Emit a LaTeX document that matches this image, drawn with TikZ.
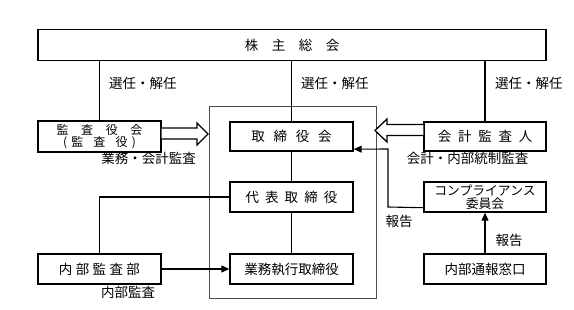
\documentclass[tikz,border=0pt]{standalone}
\usepackage{fontspec}
\setmainfont{Noto Sans CJK JP}
\usetikzlibrary{arrows.meta,calc}
\begin{document}
\begin{tikzpicture}[x=1pt,y=-1pt,
  box/.style={draw,line width=1.4pt,rectangle,minimum width=123pt,minimum height=30pt,inner sep=0pt,align=center,font=\fontsize{13.5}{15}\selectfont},
  lbl/.style={font=\fontsize{13.5}{15}\selectfont,inner sep=0pt},
  conn/.style={line width=1.1pt},
  arr/.style={conn,-{Triangle[length=8pt,width=7pt]}},
  hollow/.style={line width=1.3pt,fill=white,line join=miter}]
\useasboundingbox (0,0) rectangle (574,309);
% big frame
\draw[line width=0.6pt,black!70] (209,106) rectangle (376,298);
% boxes
\node[box,minimum width=508pt,minimum height=31pt] (soukai) at (292,45) {株\hspace{1em}主\hspace{1em}総\hspace{1em}会};
\node[box,minimum height=31pt,font=\fontsize{12}{13}\selectfont] (kansa) at (99.5,136.5) {監\hspace{1.05em}査\hspace{1.05em}役\hspace{1.05em}会\\[-1pt](\hspace{0.35em}監\hspace{0.85em}査\hspace{0.85em}役\hspace{0.35em})};
\node[box,minimum height=29pt] (tori) at (291.5,136.5) {取\hspace{0.65em}締\hspace{0.65em}役\hspace{0.65em}会};
\node[box,minimum width=122pt,minimum height=29pt] (kaikei) at (485,136.5) {会\hspace{0.5em}計\hspace{0.5em}監\hspace{0.5em}査\hspace{0.5em}人};
\node[box] (daihyo) at (291.5,197) {代\hspace{0.45em}表\hspace{0.45em}取\hspace{0.45em}締\hspace{0.45em}役};
\node[box] (gyomu) at (291.5,269) {業務執行取締役};
\node[box] (naibu) at (99.5,269) {内\hspace{0.25em}部\hspace{0.25em}監\hspace{0.25em}査\hspace{0.25em}部};
\node[box,minimum width=122pt,font=\fontsize{12.8}{13.5}\selectfont] (comp) at (485,197) {コンプライアンス\\委員会};
\node[box,minimum width=122pt] (tsuho) at (485,269) {内部通報窓口};
% selection lines
\draw[conn] (kansa.north) -- (kansa.north |- soukai.south);
\draw[conn] (tori.north) -- (tori.north |- soukai.south);
\draw[conn] (kaikei.north) -- (kaikei.north |- soukai.south);
\draw[conn] (tori.south) -- (daihyo.north);
\draw[conn] (daihyo.south) -- (gyomu.north);
\draw[conn] (naibu.north) |- (daihyo.west);
\draw[arr] (naibu.east) -- (gyomu.west);
\draw[arr] (tsuho.north) -- (comp.south);
\coordinate (compout) at ($(comp.south west)+(0,-5)$);
\coordinate (toriin) at ($(tori.south east)+(0,-2.5)$);
\draw[arr] (compout) -- (388,207) -- (388,149) -- (toriin);
% hollow arrows
\draw[hollow] (kansa.east |- 0,128) -- (197,128) -- (197,123) -- (208,134) -- (197,145) -- (197,139) -- (kansa.east |- 0,139);
\draw[hollow] (kaikei.west |- 0,124.5) -- (387,124.5) -- (387,119) -- (375,130.5) -- (387,142) -- (387,135.5) -- (kaikei.west |- 0,135.5);
% labels
\node[lbl,anchor=west] (l1) at (109,83) {選任・解任};
\node[lbl,anchor=west] (l2) at (301,83) {選任・解任};
\node[lbl,anchor=west] (l3) at (495,83) {選任・解任};
\node[lbl] (l4) at (148.5,158) {業務・会計監査};
\node[lbl] (l5) at (467.5,158) {会計・内部統制監査};
\node[lbl] (l6) at (399,221) {報告};
\node[lbl] (l7) at (509,240) {報告};
\node[lbl] (l8) at (128,292) {内部監査};
\end{tikzpicture}
\end{document}
